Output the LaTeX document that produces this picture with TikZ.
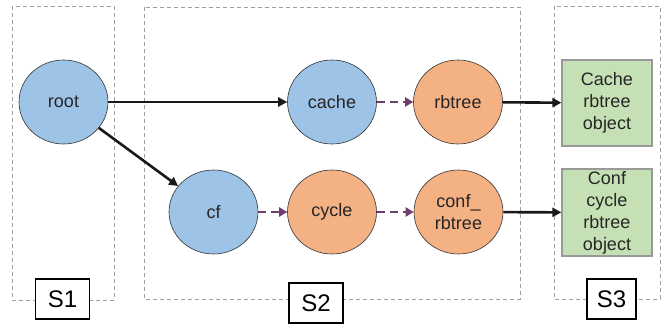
\documentclass[tikz,border=0pt]{standalone}
\usepackage{fontspec}
\setmainfont{Liberation Sans}
\usetikzlibrary{arrows.meta,shapes.geometric}
\definecolor{nodeblue}{HTML}{9DC3E6}
\definecolor{nodeorange}{HTML}{F4B183}
\definecolor{objgreen}{HTML}{C5E0B4}
\definecolor{linkpurple}{HTML}{6E3F6E}
\tikzset{
  every node/.style={font=\fontsize{18}{22}\selectfont, text=black!85},
  region/.style={draw=gray!75, dashed, dash pattern=on 4pt off 3pt, line width=0.8pt},
  tag/.style={draw=black, line width=1.4pt, fill=white, minimum width=54pt, minimum height=40pt, inner sep=0pt, font=\fontsize{24}{28}\selectfont, text=black},
  bluenode/.style={ellipse, draw=black!80, line width=0.6pt, fill=nodeblue, minimum width=89pt, minimum height=84pt, inner sep=0pt},
  orangenode/.style={ellipse, draw=black!80, line width=0.6pt, fill=nodeorange, minimum width=89pt, minimum height=84pt, inner sep=0pt, align=center},
  objbox/.style={draw=gray!80, line width=1.2pt, fill=objgreen, minimum width=90pt, inner sep=0pt, align=center},
  solidlink/.style={-{Triangle[length=9pt,width=9pt]}, line width=2.6pt, draw=black!90},
  dashlink/.style={-{Triangle[length=8pt,width=9pt]}, line width=2.6pt, draw=linkpurple, dash pattern=on 8pt off 5pt},
}
\begin{document}
\begin{tikzpicture}[x=1pt,y=-1pt]
\useasboundingbox (0,0) rectangle (665,326);
% stage regions
\draw[region] (12,6) rectangle (114,300);
\draw[region] (144,7) rectangle (520,299);
\draw[region] (554,6) rectangle (660,299);
\node[tag] (s1) at (62.5,299) {S1};
\node[tag] (s2) at (316,303) {S2};
\node[tag, minimum width=49pt] (s3) at (611.5,299) {S3};
% graph nodes
\node[bluenode] (root) at (63.5,102) {root};
\node[bluenode] (cache) at (332,102) {cache};
\node[orangenode] (rbtree) at (458,102) {rbtree};
\node[bluenode] (cf) at (213.5,212) {cf};
\node[orangenode] (cycle) at (332,212) {cycle};
\node[orangenode] (confrb) at (458.5,212) {conf\_\\rbtree};
\node[objbox, minimum height=86pt] (cacheobj) at (607,103) {Cache\\rbtree\\object};
\node[objbox, minimum height=87pt] (confobj) at (607,212.5) {Conf\\cycle\\rbtree\\object};
% connectors
\draw[solidlink] (root) -- (cache);
\draw[solidlink] (root) -- (cf);
\draw[dashlink] (cache) -- (rbtree);
\draw[dashlink] (cf) -- (cycle);
\draw[dashlink] (cycle) -- (confrb);
\draw[solidlink] (rbtree) -- (cacheobj);
\draw[solidlink] (confrb) -- (confobj);
\end{tikzpicture}
\end{document}
